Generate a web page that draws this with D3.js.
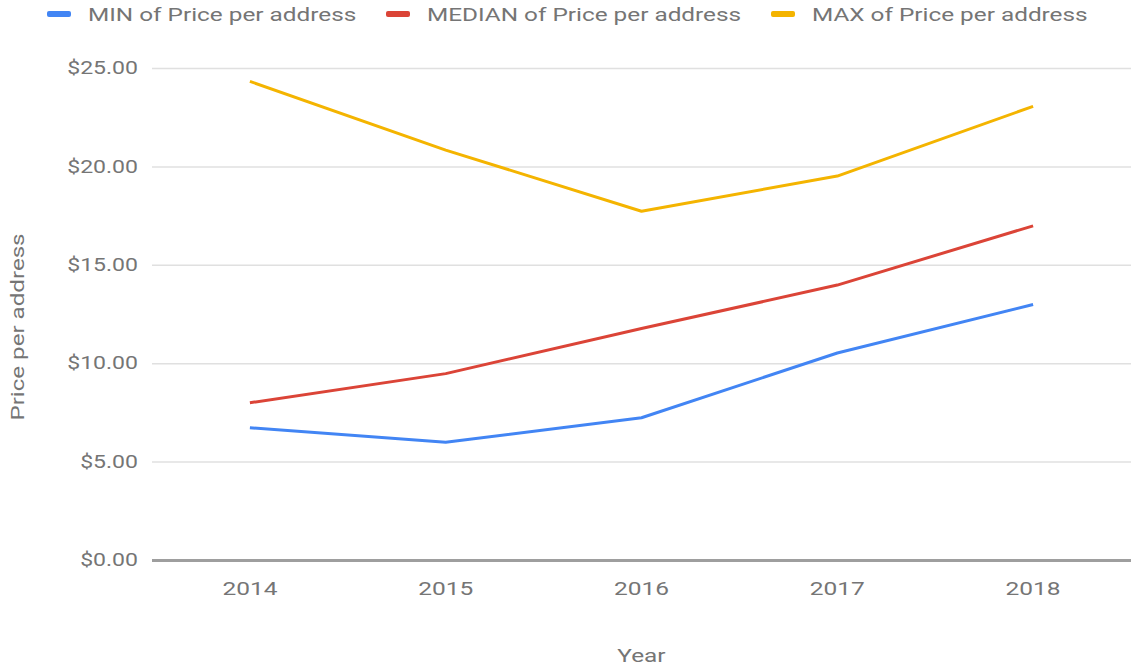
<!DOCTYPE html>
<html>
<head>
<meta charset="utf-8">
<script src="https://cdn.jsdelivr.net/npm/d3@7"></script>
<style>
  body { margin: 0; background: #fff; }
  text { font-family: Roboto, "Noto Sans", sans-serif; fill: #757575; }
</style>
</head>
<body>
<div id="chart"></div>
<script>
"use strict";

// data
var years = ["2014", "2015", "2016", "2017", "2018"];
var minPrice = [6.72, 5.98, 7.23, 10.52, 12.98];
var medianPrice = [7.99, 9.47, 11.76, 13.97, 16.98];
var maxPrice = [24.32, 20.83, 17.72, 19.51, 23.05];
var seriesNames = ["MIN of Price per address", "MEDIAN of Price per address", "MAX of Price per address"];
var seriesColors = ["#4285f4", "#db4437", "#f4b400"];
var yTicks = [0, 5, 10, 15, 20, 25];

var width = 1133, height = 667;
var margin = {top: 68, right: 2, bottom: 107, left: 152};

var svg = d3.select("#chart").append("svg")
    .attr("width", width)
    .attr("height", height);

// the original picture is a bit wider than tall, so text is stretched sideways
function stretch(sel, k) {
  sel.each(function() {
    var len = this.getComputedTextLength();
    d3.select(this)
      .attr("textLength", len * k)
      .attr("lengthAdjust", "spacingAndGlyphs");
  });
}

var x = d3.scaleBand()
    .domain(years)
    .range([margin.left, width - margin.right])
    .padding(0);

var y = d3.scaleLinear()
    .domain([0, 25])
    .range([height - margin.bottom, margin.top]);

var fmt = function(d) { return "$" + d3.format(".2f")(d); };

// gridlines + y labels
var yAxis = svg.append("g")
    .attr("transform", "translate(" + margin.left + ",0)")
    .call(d3.axisLeft(y).tickValues(yTicks).tickFormat(fmt)
      .tickSize(-(width - margin.left - margin.right)).tickPadding(14));
yAxis.select(".domain").remove();
yAxis.selectAll(".tick line")
    .attr("stroke", function(d) { return d === 0 ? "#9e9e9e" : "#e0e0e0"; })
    .attr("stroke-width", function(d) { return d === 0 ? 3 : 1.5; });
yAxis.selectAll(".tick text")
    .style("font-size", "18px")
    .style("fill", "#757575")
    .call(stretch, 1.28);

// x labels
var xAxis = svg.append("g")
    .attr("transform", "translate(0," + (height - margin.bottom) + ")")
    .call(d3.axisBottom(x).tickSize(0).tickPadding(22));
xAxis.select(".domain").remove();
xAxis.selectAll(".tick text")
    .style("font-size", "18px")
    .style("fill", "#757575")
    .call(stretch, 1.36);

// axis titles
svg.append("text")
    .attr("x", x("2016") + x.bandwidth() / 2)
    .attr("y", 662)
    .attr("text-anchor", "middle")
    .style("font-size", "19px")
    .text("Year")
    .call(stretch, 1.28);

svg.append("text")
    .attr("transform", "translate(24,327) rotate(-90)")
    .attr("text-anchor", "middle")
    .style("font-size", "18px")
    .text("Price per address")
    .call(stretch, 1.34);

// lines
var allSeries = [minPrice, medianPrice, maxPrice];
var line = d3.line()
    .x(function(d, i) { return x(years[i]) + x.bandwidth() / 2; })
    .y(function(d) { return y(d); });

svg.selectAll(".series")
    .data(allSeries)
  .enter().append("path")
    .attr("class", "series")
    .attr("fill", "none")
    .attr("stroke", function(d, i) { return seriesColors[i]; })
    .attr("stroke-width", 3)
    .attr("stroke-linejoin", "round")
    .attr("d", line);

// legend
var legendX = [47, 386, 771];
var legend = svg.selectAll(".legend")
    .data(seriesNames)
  .enter().append("g")
    .attr("class", "legend")
    .attr("transform", function(d, i) { return "translate(" + legendX[i] + ",14)"; });

legend.append("rect")
    .attr("x", 0)
    .attr("y", -3)
    .attr("width", 24)
    .attr("height", 6)
    .attr("rx", 2)
    .attr("fill", function(d, i) { return seriesColors[i]; });

legend.append("text")
    .attr("x", 41)
    .attr("y", 7)
    .style("font-size", "19px")
    .text(function(d) { return d; })
    .call(stretch, 1.28);
</script>
</body>
</html>
